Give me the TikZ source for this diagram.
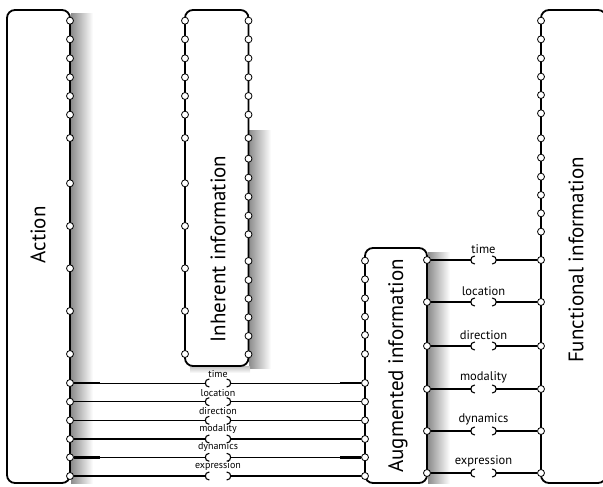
\documentclass[tikz,border=0pt]{standalone}
\usepackage{fontspec}
\setmainfont{PT Sans}
\usetikzlibrary{calc,positioning}
\tikzset{
     box/.style = {draw, line width=1.8pt, fill=white, rounded corners=8pt},
     port/.style = {circle, draw, fill=white, line width=0.8pt, inner sep=0pt, minimum size=7pt},
     wire/.style = {line width=1.5pt},
     thinwire/.style = {line width=0.8pt},
     stub/.style = {line width=2.4pt},
     cup/.style = {line width=1.1pt},
     sock/.style = {inner sep=0pt, minimum width=25pt, minimum height=8pt},
     title/.style = {rotate=90, font=\fontsize{21}{21}\selectfont},
     lbl/.style = {font=\fontsize{10}{10}\selectfont, inner sep=1pt},
     biglbl/.style = {font=\fontsize{12.5}{12.5}\selectfont, inner sep=1pt},
    }

\begin{document}
\begin{tikzpicture}[x=1pt,y=-1pt]
        \useasboundingbox (0,0) rectangle (603,487);
        % shadows
        \shade[left color=black!45, right color=white] (71,14) rectangle (93,483);
        \shade[left color=black!45, right color=white] (249,130) rectangle (271,368);
        \shade[top color=black!25, bottom color=white] (190,366) rectangle (250,373);
        \shade[left color=black!45, right color=white] (428,252) rectangle (450,483);

        % boxes
        \draw[box] (7,10) rectangle (70,483);
        \draw[box] (185,10) rectangle (248.5,366);
        \draw[box] (365,248) rectangle (427,483);
        \draw[box] (541,10) rectangle (606,483);

        \node[title] (act) at (38,235) {Action};
        \node[title] (inh) at (218,249) {Inherent information};
        \node[title] (aug) at (398,366) {Augmented information};
        \node[title] (fun) at (576,260) {Functional information};

        % ports
        \foreach \y [count=\i] in {20.7,39.3,58.3,77.3,96,114.7,138,183.3,226,268.3,311,354,383,401.7,420.3,439,457.3,476}
            \node[port] (a\i) at (70,\y) {};
        \foreach \y [count=\i] in {20.7,39.3,58.3,77.3,96,114.7,138,183.3,226,268.3,311,354}
            \node[port] (il\i) at (185,\y) {};
        \foreach \y [count=\i] in {20.7,39.3,58.3,77.3,96,114.7,138,158.7,177.7,196.7,215.7,234.3,261,280,298.7,317.3,336,354.3}
            \node[port] (ir\i) at (248.5,\y) {};
        \foreach \y [count=\i] in {260.7,279.3,298.3,316.7,335,354,383,401.7,420.3,439,457.3,476}
            \node[port] (g\i) at (365,\y) {};
        \foreach \y [count=\i] in {260,302,346,389,431,473}
            \node[port] (r\i) at (427,\y) {};
        \foreach \y [count=\i] in {20.7,39.3,58.3,76.7,95,113.3,138.3,157.7,176.7,195,213.3,231.7,260,302,346,389,431,473}
            \node[port] (f\i) at (541,\y) {};

        % action -> augmented
        \foreach \t/\w [count=\i] in {time/thinwire,location/wire,direction/wire,modality/wire,dynamics/wire,expression/wire} {
            \pgfmathtruncatemacro\j{\i+12}
            \pgfmathtruncatemacro\k{\i+6}
            \node[sock, label={[lbl]above:\t}] (ls\i) at (218,0 |- a\j) {};
            \draw[\w] (a\j) -- (ls\i.west) (ls\i.east) -- (g\k);
            \draw[cup] ($(ls\i.west)+(4,-4)$) .. controls +(-5.3,0) and +(-5.3,0) .. ($(ls\i.west)+(4,4)$);
            \draw[cup] ($(ls\i.east)+(-4,-4)$) .. controls +(5.3,0) and +(5.3,0) .. ($(ls\i.east)+(-4,4)$);
        }
        \draw[stub] (a13) -- +(30,0) (g7) -- +(-25,0);
        \draw[stub] (a17) -- +(30,0) (g11) -- +(-25,0);

        % augmented -> functional
        \foreach \t [count=\i] in {time,location,direction,modality,dynamics,expression} {
            \pgfmathtruncatemacro\j{\i+12}
            \node[sock, minimum height=9pt, label={[biglbl]above:\t}] (rs\i) at (483.5,0 |- r\i) {};
            \draw[wire] (r\i) -- (rs\i.west) (rs\i.east) -- (f\j);
            \draw[cup] ($(rs\i.west)+(4,-4)$) .. controls +(-5.3,0) and +(-5.3,0) .. ($(rs\i.west)+(4,4)$);
            \draw[cup] ($(rs\i.east)+(-4,-4)$) .. controls +(5.3,0) and +(5.3,0) .. ($(rs\i.east)+(-4,4)$);
        }
        \draw[stub] (r5) -- +(28,0);
\end{tikzpicture}
\end{document}
